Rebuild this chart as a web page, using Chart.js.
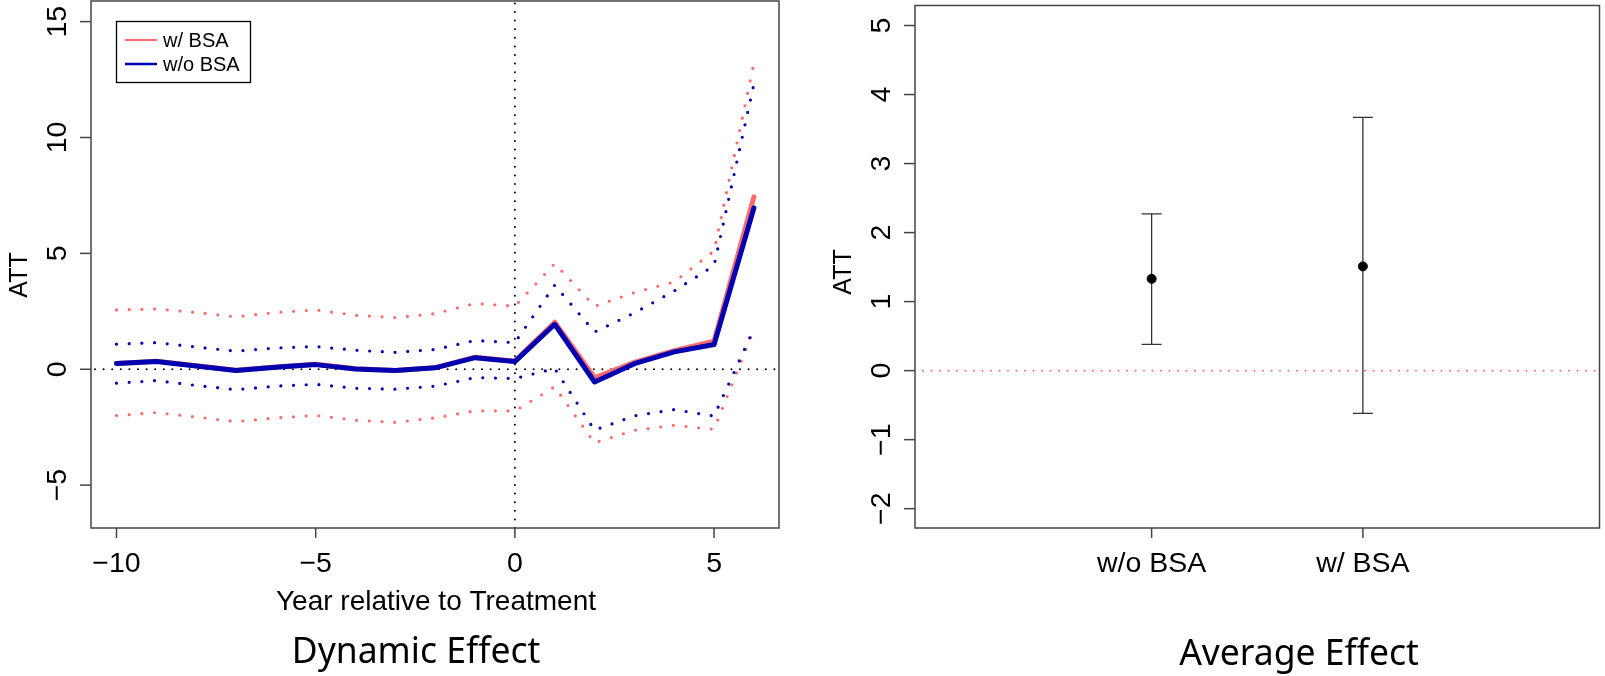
<!DOCTYPE html>
<html>
<head>
<meta charset="utf-8">
<script src="https://cdn.jsdelivr.net/npm/chart.js@4.4.1/dist/chart.umd.min.js"></script>
<style>
  body { margin: 0; background: #fff; }
  #wrap { position: relative; width: 1605px; height: 676px; }
  canvas { position: absolute; top: 0; }
</style>
</head>
<body>
<div id="wrap">
  <canvas id="dynChart" width="802" height="676" style="left:0px"></canvas>
  <canvas id="avgChart" width="803" height="676" style="left:802px"></canvas>
</div>
<script>
// left panel: ATT by year relative to treatment
const years = [-10, -9, -8, -7, -6, -5, -4, -3, -2, -1, 0, 1, 2, 3, 4, 5, 6];
const attBsa = [0.25, 0.35, 0.15, -0.04, 0.1, 0.22, 0.02, -0.05, 0.07, 0.52, 0.35, 2.03, -0.37, 0.3, 0.8, 1.21, 7.44];
const attNoBsa = [0.25, 0.33, 0.14, -0.05, 0.09, 0.2, 0.01, -0.05, 0.06, 0.5, 0.33, 1.94, -0.55, 0.24, 0.75, 1.07, 6.96];
const upperBsa = [2.56, 2.6, 2.45, 2.26, 2.45, 2.56, 2.33, 2.23, 2.4, 2.84, 2.72, 4.56, 2.72, 3.31, 3.77, 5.1, 13.2];
const lowerBsa = [-2.0, -1.87, -2.06, -2.26, -2.1, -1.99, -2.2, -2.29, -2.1, -1.79, -1.8, -0.76, -3.18, -2.63, -2.42, -2.59, 1.72];
const upperNoBsa = [1.08, 1.15, 0.96, 0.78, 0.92, 0.98, 0.82, 0.73, 0.85, 1.24, 1.15, 3.63, 1.61, 2.43, 3.38, 4.47, 12.3];
const lowerNoBsa = [-0.6, -0.49, -0.7, -0.88, -0.73, -0.65, -0.82, -0.86, -0.73, -0.36, -0.4, 0.03, -2.63, -2.01, -1.74, -2.02, 1.75];
const yearTicks = [-10, -5, 0, 5];
const dynTicks = [-5, 0, 5, 10, 15];

// right panel: average effect with intervals
const groups = ['w/o BSA', 'w/ BSA'];
const groupPos = [1, 2];
const avgAtt = [1.33, 1.51];
const avgLower = [0.38, -0.62];
const avgUpper = [2.27, 3.67];
const avgTicks = [-2, -1, 0, 1, 2, 3, 4, 5];

const RED = '#ff6a6a';
const BLUE = '#0000b0';
const AXIS = '#444';
const TICK_FONT = '28.5px "Liberation Sans", Arial, sans-serif';
const TITLE_FONT = '35.5px "Noto Sans", sans-serif';

function fmt(v) {
    return v < 0 ? '\u2212' + Math.abs(v) : String(v);
}

function pts(ys) {
    return years.map((x, i) => ({ x: x, y: ys[i] }));
}

function dotted(ctx, color, width, gap) {
    ctx.strokeStyle = color;
    ctx.lineWidth = width;
    ctx.lineCap = 'round';
    ctx.setLineDash([0, gap]);
}

// draws an R style box, ticks and labels from the chart's scales
function drawFrame(chart, cfg) {
    const ctx = chart.ctx;
    const a = chart.chartArea;
    const xs = chart.scales.x;
    const ys = chart.scales.y;
    ctx.save();
    ctx.setLineDash([]);
    ctx.strokeStyle = AXIS;
    ctx.lineWidth = 1.5;
    ctx.strokeRect(a.left, a.top, a.right - a.left, a.bottom - a.top);

    ctx.fillStyle = '#000';
    ctx.font = TICK_FONT;
    ctx.textAlign = 'center';
    ctx.textBaseline = 'alphabetic';
    cfg.xTicks.forEach((t) => {
        const px = xs.getPixelForValue(t.value);
        ctx.beginPath();
        ctx.moveTo(px, a.bottom);
        ctx.lineTo(px, a.bottom + 10);
        ctx.stroke();
        ctx.fillText(t.label, px, cfg.xLabelBase);
    });
    cfg.yTicks.forEach((v) => {
        const py = ys.getPixelForValue(v);
        ctx.beginPath();
        ctx.moveTo(a.left, py);
        ctx.lineTo(a.left - 11, py);
        ctx.stroke();
        ctx.save();
        ctx.translate(cfg.yLabelBase, py);
        ctx.rotate(-Math.PI / 2);
        ctx.fillText(fmt(v), 0, 0);
        ctx.restore();
    });

    ctx.font = cfg.yTitleFont;
    ctx.save();
    ctx.translate(cfg.yTitleBase, cfg.yTitleMid);
    ctx.rotate(-Math.PI / 2);
    ctx.fillText('ATT', 0, 0);
    ctx.restore();

    if (cfg.xTitle) {
        ctx.font = cfg.xTitleFont;
        ctx.fillText(cfg.xTitle, cfg.xTitleMid, cfg.xTitleBase);
    }
    ctx.font = TITLE_FONT;
    ctx.fillText(cfg.title, cfg.titleMid, cfg.titleBase);
    ctx.restore();
}

const dynPlugin = {
    id: 'dynFrame',
    beforeDatasetsDraw(chart) {
        const ctx = chart.ctx;
        const a = chart.chartArea;
        const y0 = chart.scales.y.getPixelForValue(0);
        const x0 = chart.scales.x.getPixelForValue(0);
        ctx.save();
        dotted(ctx, '#000', 2, 8.6);
        ctx.beginPath();
        ctx.moveTo(a.left + 4, y0);
        ctx.lineTo(a.right, y0);
        ctx.moveTo(x0, a.bottom);
        ctx.lineTo(x0, a.top);
        ctx.stroke();
        ctx.restore();
    },
    afterDraw(chart) {
        drawFrame(chart, {
            xTicks: yearTicks.map((v) => ({ value: v, label: fmt(v) })),
            yTicks: dynTicks,
            xLabelBase: 572,
            yLabelBase: 66,
            yTitleBase: 27,
            yTitleMid: 275,
            yTitleFont: '25px "Liberation Sans", Arial, sans-serif',
            xTitle: 'Year relative to Treatment',
            xTitleFont: '28px "Liberation Sans", Arial, sans-serif',
            xTitleMid: 436,
            xTitleBase: 610,
            title: 'Dynamic Effect',
            titleMid: 416,
            titleBase: 663
        });
        // legend
        const ctx = chart.ctx;
        ctx.save();
        ctx.strokeStyle = '#000';
        ctx.lineWidth = 1.3;
        ctx.strokeRect(116.5, 21.5, 134, 61);
        ctx.lineWidth = 2;
        ctx.strokeStyle = RED;
        ctx.beginPath();
        ctx.moveTo(125, 40);
        ctx.lineTo(157, 40);
        ctx.stroke();
        ctx.strokeStyle = BLUE;
        ctx.lineWidth = 2.5;
        ctx.beginPath();
        ctx.moveTo(125, 64);
        ctx.lineTo(157, 64);
        ctx.stroke();
        ctx.fillStyle = '#000';
        ctx.font = '20px "Liberation Sans", Arial, sans-serif';
        ctx.textAlign = 'left';
        ctx.fillText('w/ BSA', 163, 47);
        ctx.fillText('w/o BSA', 163, 71);
        ctx.restore();
    }
};

function lineSet(label, data, color, width, isDotted, order) {
    return {
        label: label,
        data: pts(data),
        borderColor: color,
        borderWidth: width,
        borderDash: isDotted ? [0, 12.7] : [],
        borderCapStyle: 'round',
        borderJoinStyle: 'round',
        pointRadius: 0,
        tension: 0,
        fill: false,
        order: order
    };
}

new Chart(document.getElementById('dynChart'), {
    type: 'line',
    plugins: [dynPlugin],
    data: {
        datasets: [
            lineSet('w/o BSA', attNoBsa, BLUE, 5, false, 0),
            lineSet('w/ BSA', attBsa, RED, 5, false, 1),
            lineSet('w/o BSA upper', upperNoBsa, BLUE, 3.2, true, 2),
            lineSet('w/o BSA lower', lowerNoBsa, BLUE, 3.2, true, 2),
            lineSet('w/ BSA upper', upperBsa, RED, 3.2, true, 3),
            lineSet('w/ BSA lower', lowerBsa, RED, 3.2, true, 3)
        ]
    },
    options: {
        responsive: false,
        animation: false,
        layout: { padding: { left: 91, top: 1, right: 23, bottom: 148 } },
        scales: {
            x: { type: 'linear', min: -10.64, max: 6.63, display: false },
            y: { type: 'linear', min: -6.85, max: 15.89, display: false }
        },
        plugins: { legend: { display: false }, tooltip: { enabled: false } }
    }
});

const avgPlugin = {
    id: 'avgFrame',
    beforeDatasetsDraw(chart) {
        const ctx = chart.ctx;
        const a = chart.chartArea;
        const xs = chart.scales.x;
        const ys = chart.scales.y;
        const y0 = ys.getPixelForValue(0);
        ctx.save();
        dotted(ctx, RED, 2, 8.5);
        ctx.beginPath();
        ctx.moveTo(a.left + 8, y0);
        ctx.lineTo(a.right, y0);
        ctx.stroke();
        // interval bars
        ctx.setLineDash([]);
        ctx.lineCap = 'butt';
        ctx.strokeStyle = '#333';
        ctx.lineWidth = 1.3;
        groupPos.forEach((g, i) => {
            const px = xs.getPixelForValue(g);
            const top = ys.getPixelForValue(avgUpper[i]);
            const bot = ys.getPixelForValue(avgLower[i]);
            ctx.beginPath();
            ctx.moveTo(px, top);
            ctx.lineTo(px, bot);
            ctx.moveTo(px - 10, top);
            ctx.lineTo(px + 10, top);
            ctx.moveTo(px - 10, bot);
            ctx.lineTo(px + 10, bot);
            ctx.stroke();
        });
        ctx.restore();
    },
    afterDraw(chart) {
        drawFrame(chart, {
            xTicks: groupPos.map((v, i) => ({ value: v, label: groups[i] })),
            yTicks: avgTicks,
            xLabelBase: 572,
            yLabelBase: 88,
            yTitleBase: 49,
            yTitleMid: 272,
            yTitleFont: '25px "Liberation Sans", Arial, sans-serif',
            xTitle: null,
            title: 'Average Effect',
            titleMid: 497,
            titleBase: 665
        });
    }
};

new Chart(document.getElementById('avgChart'), {
    type: 'scatter',
    plugins: [avgPlugin],
    data: {
        datasets: [{
            label: 'ATT',
            data: groupPos.map((g, i) => ({ x: g, y: avgAtt[i] })),
            backgroundColor: '#000',
            borderColor: '#000',
            pointRadius: 4.5,
            pointHoverRadius: 4.5
        }]
    },
    options: {
        responsive: false,
        animation: false,
        layout: { padding: { left: 113, top: 1, right: 1, bottom: 148 } },
        scales: {
            x: { type: 'linear', min: -0.12, max: 3.12, display: false },
            y: { type: 'linear', min: -2.28, max: 5.29, display: false }
        },
        plugins: { legend: { display: false }, tooltip: { enabled: false } }
    }
});
</script>
</body>
</html>
